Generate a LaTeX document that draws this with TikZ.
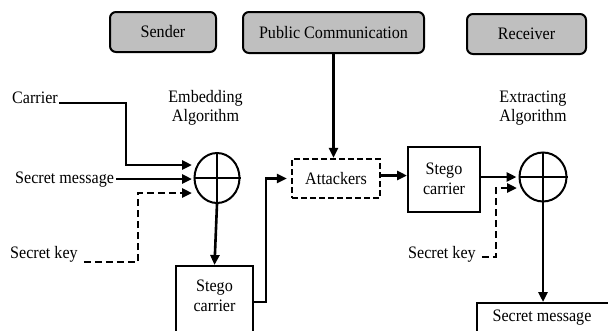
\documentclass[tikz,border=0pt]{standalone}
\usepackage{fontspec}
\setmainfont[FakeStretch=0.92]{Liberation Serif}
\usetikzlibrary{arrows.meta,shapes.geometric}

\begin{document}
\begin{tikzpicture}[x=1pt,y=-1pt,
  txt/.style={font=\fontsize{17.5}{19.5}\selectfont, inner sep=0pt, align=center},
  role/.style={draw, line width=2pt, rounded corners=6pt, fill=gray!50,
    font=\fontsize{17.5}{19.5}\selectfont, inner sep=0pt},
  blk/.style={draw, line width=2pt, inner sep=0pt},
  xor/.style={draw, ellipse, line width=2pt, inner sep=0pt},
  arr/.style={line width=2.6pt, -{Triangle[length=10pt,width=9pt]}},
  darr/.style={arr, dash pattern=on 7pt off 4pt},
]
\useasboundingbox (0,0) rectangle (608,330);
\clip (0,0) rectangle (608,330);

% party labels
\node[role, minimum width=106, minimum height=40] (sender) at (163,32) {Sender};
\node[role, minimum width=181, minimum height=41] (public) at (333.5,32.5) {Public Communication};
\node[role, minimum width=119, minimum height=40] (receiver) at (526.5,34) {Receiver};

% embedding side
\node[txt, anchor=base west] (carrier) at (12,103) {Carrier};
\node[txt, anchor=base west] (smsg) at (15,183) {Secret message};
\node[txt, anchor=base west] (skey) at (10,258) {Secret key};
\node[txt] (emb) at (205.5,108) {Embedding\\Algorithm};
\node[xor, minimum width=45, minimum height=50] (op1) at (217,178) {};
\draw[line width=2pt] (op1.north) -- (op1.south) (op1.west) -- (op1.east);
\node[blk, anchor=north, minimum width=77, minimum height=90] (stego1) at (214.5,265) {};
\node[txt] (stego1t) at (214.5,296) {Stego\\carrier};

\coordinate (in1) at (192,165);
\coordinate (in2) at (192,179);
\coordinate (in3) at (192,193);
\draw[arr] ([xshift=1pt]carrier.base east) -| (126,165) -- (in1);
\draw[arr] ([xshift=2pt,yshift=4pt]smsg.base east) -- (in2);
\draw[darr] ([xshift=6pt,yshift=-4pt]skey.base east) -| (138,193) -- (in3);
\draw[arr] (op1.south) -- (stego1.north);

% channel
\node[blk, dash pattern=on 6pt off 3pt, line width=2.2pt,
  minimum width=88, minimum height=39] (att) at (336,178.5) {};
\node[txt] (attt) at (336,178.5) {Attackers};
\draw[arr] (public.south) -- (public.south |- att.north);
\draw[arr] ([yshift=-37pt]stego1.north east) -- ++(12,0) |- ([xshift=-4pt]att.west);

% extracting side
\node[blk, minimum width=72, minimum height=65] (stego2) at (444,179.5) {};
\node[txt] (stego2t) at (444,179) {Stego\\carrier};
\draw[arr] ([yshift=3pt]att.east) -- ([yshift=3pt]att.east -| stego2.west);
\node[txt] (ext) at (533,108) {Extracting\\Algorithm};
\node[xor, minimum width=47, minimum height=49] (op2) at (543,177) {};
\draw[line width=2pt] (op2.north) -- (op2.south) (op2.west) -- (op2.east);
\draw[arr] (stego2.east |- op2) -- ([xshift=-2pt]op2.west);
\node[txt, anchor=base west] (skey2) at (408,258) {Secret key};
\coordinate (in4) at (517,188);
\draw[darr] ([xshift=6pt,yshift=1pt]skey2.base east) -| (496,188) -- (in4);
\node[blk, anchor=north, minimum width=132, minimum height=60] (rmsg) at (543,302) {};
\node[txt] (rmsgt) at (542,318) {Secret message};
\draw[arr] (op2.south) -- (rmsg.north);
\end{tikzpicture}
\end{document}
